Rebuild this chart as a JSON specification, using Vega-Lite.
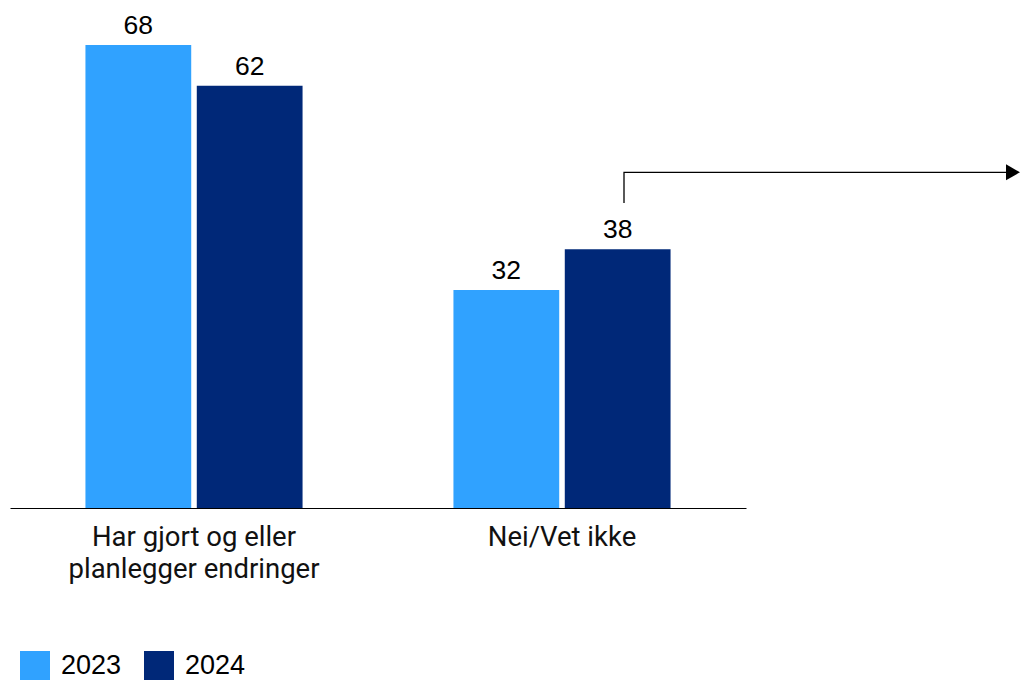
{
  "$schema": "https://vega.github.io/schema/vega-lite/v6.json",
  "width": 1010,
  "height": 508,
  "autosize": "none",
  "padding": {"left": 10, "top": 0, "right": 0, "bottom": 172},
  "background": "white",
  "config": {"view": {"stroke": null}},
  "layer": [
    {
      "data": {"values": [
        {"kategori": "Har gjort og eller|planlegger endringer", "år": "2023", "andel": 68},
        {"kategori": "Har gjort og eller|planlegger endringer", "år": "2024", "andel": 62},
        {"kategori": "Nei/Vet ikke", "år": "2023", "andel": 32},
        {"kategori": "Nei/Vet ikke", "år": "2024", "andel": 38}
      ]},
      "encoding": {
        "x": {"field": "kategori", "type": "nominal", "sort": null,
          "scale": {"range": [0, 736], "paddingInner": 0.41, "paddingOuter": 0.205},
          "axis": {"title": null, "labelAngle": 0, "ticks": false, "domainColor": "black", "domainWidth": 1.2,
            "labelExpr": "split(datum.label, '|')", "labelFont": "Roboto", "labelFontSize": 27.5,
            "labelLineHeight": 32.5, "labelColor": "#111111", "labelPadding": 15, "labelLimit": 400}},
        "xOffset": {"field": "år", "type": "nominal", "scale": {"paddingInner": 0.05, "paddingOuter": 0}},
        "y": {"field": "andel", "type": "quantitative", "scale": {"domain": [0, 74.6], "nice": false}, "axis": null}
      },
      "layer": [
        {
          "mark": {"type": "bar"},
          "encoding": {
            "color": {"field": "år", "type": "nominal",
              "scale": {"domain": ["2023", "2024"], "range": ["#30A2FF", "#002878"]},
              "legend": {"title": null, "orient": "none", "legendX": 10, "legendY": 651, "direction": "horizontal",
                "symbolType": "square", "symbolSize": 900, "symbolStrokeWidth": 0, "symbolOpacity": 1,
                "labelFont": "Liberation Sans", "labelFontSize": 27, "labelColor": "black", "labelOffset": 11,
                "columnPadding": 22}}
          }
        },
        {
          "mark": {"type": "text", "baseline": "alphabetic", "dy": -11, "font": "Liberation Sans", "fontSize": 26.5, "color": "black"},
          "encoding": {"text": {"field": "andel", "type": "quantitative"}}
        }
      ]
    },
    {
      "data": {"values": [
        {"px": 614, "py": 44.8, "rekkefølge": 1},
        {"px": 614, "py": 49.3, "rekkefølge": 2},
        {"px": 1002, "py": 49.3, "rekkefølge": 3}
      ]},
      "mark": {"type": "line", "color": "black", "strokeWidth": 1.3, "clip": false},
      "encoding": {
        "x": {"field": "px", "type": "quantitative", "scale": {"domain": [0, 1010], "nice": false, "zero": false}, "axis": null},
        "y": {"field": "py", "type": "quantitative", "scale": {"domain": [0, 74.6], "nice": false}, "axis": null},
        "order": {"field": "rekkefølge"}
      }
    },
    {
      "data": {"values": [{"px": 1003, "py": 49.3}]},
      "mark": {"type": "point", "shape": "triangle-right", "filled": true, "color": "black", "size": 260, "opacity": 1},
      "encoding": {
        "x": {"field": "px", "type": "quantitative", "scale": {"domain": [0, 1010], "nice": false, "zero": false}, "axis": null},
        "y": {"field": "py", "type": "quantitative", "scale": {"domain": [0, 74.6], "nice": false}, "axis": null}
      }
    }
  ],
  "resolve": {"scale": {"x": "independent"}}
}
